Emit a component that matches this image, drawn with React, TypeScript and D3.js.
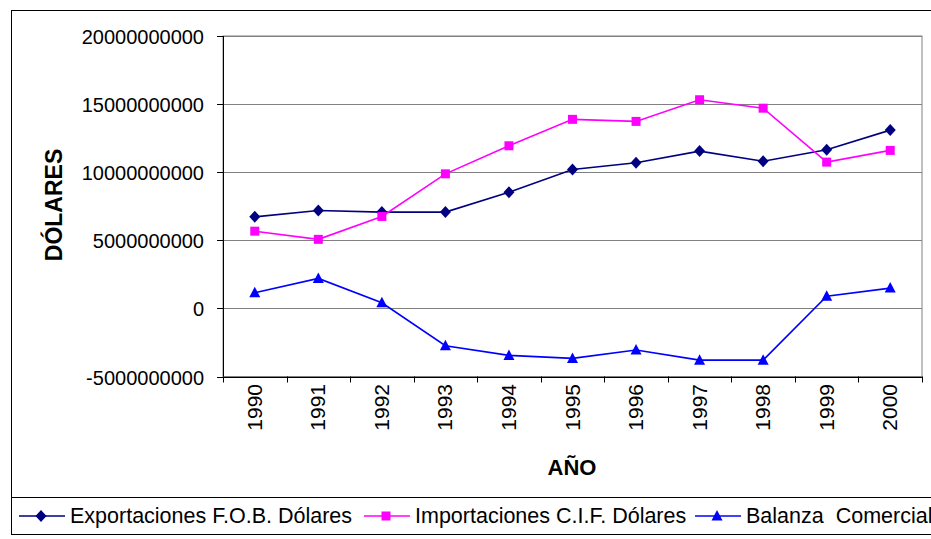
import React, { useEffect } from 'react';
import * as d3 from 'd3';

const years = ['1990', '1991', '1992', '1993', '1994', '1995', '1996', '1997', '1998', '1999', '2000'];
const exportaciones = [6.72e9, 7.19e9, 7.07e9, 7.07e9, 8.52e9, 10.2e9, 10.69e9, 11.55e9, 10.81e9, 11.65e9, 13.09e9];
const importaciones = [5.67e9, 5.07e9, 6.75e9, 9.88e9, 11.94e9, 13.88e9, 13.73e9, 15.32e9, 14.7e9, 10.74e9, 11.6e9];
const balanza = [1.15e9, 2.2e9, 0.41e9, -2.74e9, -3.45e9, -3.67e9, -3.06e9, -3.8e9, -3.8e9, 0.9e9, 1.49e9];
const yTicks = [-5000000000, 0, 5000000000, 10000000000, 15000000000, 20000000000];
const seriesNames = ['Exportaciones F.O.B. Dólares', 'Importaciones C.I.F. Dólares', 'Balanza  Comercial'];

const W = 931;
const H = 539;
const plot = { left: 223, right: 922, top: 36, bottom: 376.5 };
const font = '"Liberation Sans", Arial, sans-serif';

const markerPath = (kind: string) => {
  if (kind === 'diamond') return 'M0,-6L5.5,0L0,6L-5.5,0Z';
  if (kind === 'square') return 'M-4.5,-4.5H4.5V4.5H-4.5Z';
  return 'M0,-6L5.5,4.5H-5.5Z';
};

const series = [
  { name: seriesNames[0], values: exportaciones, color: '#000080', marker: 'diamond', legendX: 19 },
  { name: seriesNames[1], values: importaciones, color: '#FF00FF', marker: 'square', legendX: 364 },
  { name: seriesNames[2], values: balanza, color: '#0000FF', marker: 'triangle', legendX: 695 },
];

export default function App() {
  useEffect(() => {
    document.body.style.margin = '0';
  }, []);

  const x = d3.scaleBand<string>().domain(years).range([plot.left, plot.right]).padding(0);
  const y = d3.scaleLinear().domain([-5e9, 2e10]).range([plot.bottom, plot.top]);
  const cx = (yr: string) => (x(yr) as number) + x.bandwidth() / 2;

  const line = d3
    .line<number>()
    .x((_, i) => cx(years[i]))
    .y((d) => y(d));

  const bounds = years.map((yr) => x(yr) as number).concat([plot.right]);

  return (
    <svg width={W} height={H} style={{ display: 'block', fontFamily: font }}>
      <rect x={0} y={0} width={W} height={H} fill="#fff" />
      {/* chart frame */}
      <rect x={11.5} y={10.5} width={W + 20} height={524} fill="none" stroke="#000" strokeWidth={1} />
      <line x1={11} x2={W} y1={497.5} y2={497.5} stroke="#000" strokeWidth={1} />

      {/* plot area border + gridlines */}
      <rect x={plot.left} y={plot.top} width={plot.right - plot.left} height={plot.bottom - plot.top} fill="#fff" stroke="#808080" strokeWidth={1} />
      {yTicks.map((t) => (
        <line key={'g' + t} x1={plot.left} x2={plot.right} y1={Math.round(y(t)) + 0.5} y2={Math.round(y(t)) + 0.5} stroke="#808080" strokeWidth={1} />
      ))}

      {/* y axis */}
      <line x1={plot.left + 0.5} x2={plot.left + 0.5} y1={plot.top} y2={plot.bottom} stroke="#000" />
      {yTicks.map((t) => (
        <g key={'y' + t} transform={`translate(0,${Math.round(y(t)) + 0.5})`}>
          <line x1={plot.left - 6} x2={plot.left} stroke="#000" />
          <text x={204} dy="0.36em" textAnchor="end" fontSize={20} fill="#000">
            {t}
          </text>
        </g>
      ))}

      {/* x axis */}
      <line x1={plot.left} x2={plot.right} y1={Math.round(y(-5e9)) + 0.5} y2={Math.round(y(-5e9)) + 0.5} stroke="#000" />
      {bounds.map((b, i) => (
        <line key={'xt' + i} x1={Math.round(b) + 0.5} x2={Math.round(b) + 0.5} y1={plot.bottom} y2={plot.bottom + 6} stroke="#000" />
      ))}
      {years.map((yr) => (
        <text
          key={'xl' + yr}
          transform={`translate(${cx(yr) + 7},384) rotate(-90)`}
          textAnchor="end"
          fontSize={21}
          fill="#000"
        >
          {yr}
        </text>
      ))}

      {/* axis titles */}
      <text transform="translate(62,205) rotate(-90)" textAnchor="middle" fontSize={23} fontWeight="bold" fill="#000">
        DÓLARES
      </text>
      <text x={572} y={475} textAnchor="middle" fontSize={22} fontWeight="bold" fill="#000">
        AÑO
      </text>

      {/* series */}
      {series.map((s) => (
        <g key={s.name}>
          <path d={line(s.values) as string} fill="none" stroke={s.color} strokeWidth={1.6} />
          {s.values.map((v, i) => (
            <path key={i} d={markerPath(s.marker)} transform={`translate(${cx(years[i])},${y(v)})`} fill={s.color} />
          ))}
        </g>
      ))}

      {/* legend */}
      {series.map((s) => (
        <g key={'lg' + s.name} transform={`translate(${s.legendX},516)`}>
          <line x1={0} x2={46} stroke={s.color} strokeWidth={1.6} />
          <path d={markerPath(s.marker)} transform="translate(22,0)" fill={s.color} />
          <text x={51} y={6.5} fontSize={21.5} fill="#000" style={{ whiteSpace: 'pre' }}>
            {s.name}
          </text>
        </g>
      ))}
    </svg>
  );
}
